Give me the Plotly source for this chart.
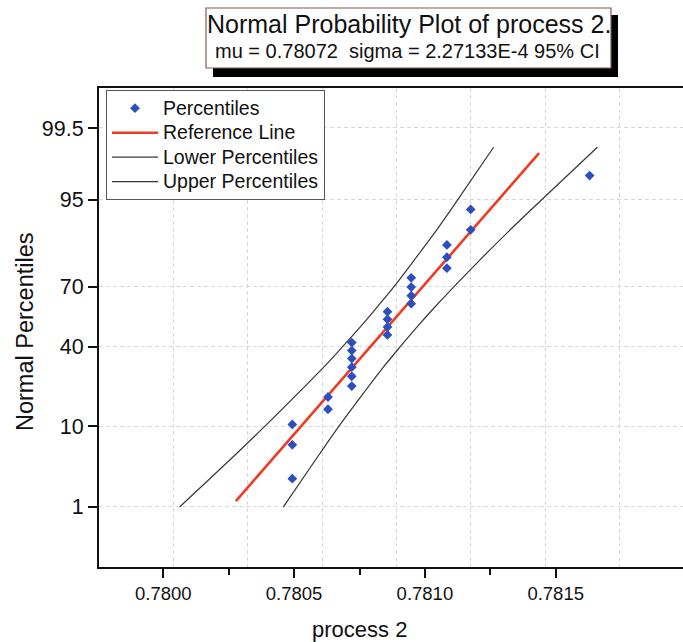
import plotly.graph_objects as go
from statistics import NormalDist

# ---------------- data ----------------
process2_values = [0.7804, 0.7804, 0.7804, 0.78052, 0.78052,
                   0.7806, 0.7806, 0.7806, 0.7806, 0.7806, 0.7806,
                   0.78072, 0.78072, 0.78072, 0.78072,
                   0.7808, 0.7808, 0.7808, 0.7808,
                   0.78092, 0.78092, 0.78092, 0.7810, 0.7810, 0.7814]
point_percentiles = [2.5, 6.4, 10.4, 14.4, 18.3, 22.3, 26.2, 30.2, 34.2, 38.1,
                     42.1, 46.0, 50.0, 54.0, 57.9, 61.9, 65.8, 69.8, 73.8, 77.7,
                     81.7, 85.6, 89.6, 93.6, 97.5]

ref_line_x = [0.78021, 0.78123]
ref_line_pct = [1.22, 98.78]

ci_pct = [1, 5, 10, 20, 30, 40, 50, 60, 70, 80, 90, 95, 99]
lower_x = [0.780021, 0.780210, 0.780308, 0.780423, 0.780504, 0.780569, 0.780628,
           0.780684, 0.780742, 0.780805, 0.780890, 0.780956, 0.781077]
upper_x = [0.780370, 0.780491, 0.780557, 0.780642, 0.780705, 0.780763, 0.780819,
           0.780878, 0.780944, 0.781024, 0.781139, 0.781238, 0.781426]

ytick_pct = [1, 10, 40, 70, 95, 99.5]
ytick_text = ["1", "10", "40", "70", "95", "99.5"]
xtick_vals = [0.7800, 0.7805, 0.7810, 0.7815]
xtick_text = ["0.7800", "0.7805", "0.7810", "0.7815"]
xminor_vals = [0.78025, 0.78075, 0.78125]

legend_names = ["Percentiles", "Reference Line", "Lower Percentiles", "Upper Percentiles"]

title_line1 = "Normal Probability Plot of process 2."
title_line2 = "mu = 0.78072&nbsp; sigma = 2.27133E-4 95% CI"

# ---------------- layout helpers ----------------
W, H = 683, 642
ML, MR, MT, MB = 99, 0, 88, 75
PW, PH = W - ML - MR, H - MT - MB
FONT = "Liberation Sans, Arial, sans-serif"


def px_x(p):
    return (p - ML) / PW


def px_y(p):
    return (H - MB - p) / PH


nd = NormalDist()


def probit(pcts):
    return [nd.inv_cdf(p / 100.0) for p in pcts]


def leg(name):
    return '<span style="font-size:19.5px">' + name + '</span>'


fig = go.Figure()

line_col = "#3c3434"
fig.add_trace(go.Scatter(x=lower_x, y=probit(ci_pct), mode="lines", name=leg(legend_names[2]),
                         line=dict(color=line_col, width=1.2, shape="spline"), legendrank=3))
fig.add_trace(go.Scatter(x=upper_x, y=probit(ci_pct), mode="lines", name=leg(legend_names[3]),
                         line=dict(color=line_col, width=1.2, shape="spline"), legendrank=4))
fig.add_trace(go.Scatter(x=ref_line_x, y=probit(ref_line_pct), mode="lines",
                         name=leg(legend_names[1]),
                         line=dict(color="#ef3b23", width=2.6), legendrank=2))
fig.add_trace(go.Scatter(x=process2_values, y=probit(point_percentiles), mode="markers",
                         name=leg(legend_names[0]), legendrank=1,
                         marker=dict(symbol="diamond", size=7.5, color="#2b4fc0",
                                     line=dict(width=0))))

grid_col = "#d2d9e0"
fig.update_layout(
    width=W, height=H,
    margin=dict(l=ML, r=MR, t=MT, b=MB, pad=0),
    paper_bgcolor="white", plot_bgcolor="white",
    font=dict(family=FONT, color="#111111"),
    showlegend=True,
    legend=dict(x=px_x(106), y=px_y(90), xanchor="left", yanchor="top",
                bgcolor="white", bordercolor="#555555", borderwidth=1,
                font=dict(family=FONT, size=16.5, color="#111111"),
                tracegroupgap=0, itemwidth=46),
    xaxis=dict(range=[0.7797498, 0.7817141], showgrid=True, gridcolor=grid_col,
               griddash="4px,3px", gridwidth=1, tick0=0.78, dtick=0.00025,
               showticklabels=False, ticks="", showline=False, zeroline=False),
    xaxis2=dict(overlaying="x", anchor="y", side="bottom",
                range=[0.7797542, 0.7819866], tickmode="array",
                tickvals=xtick_vals, ticktext=xtick_text,
                ticks="outside", ticklen=9, tickwidth=2, tickcolor="#111111",
                tickfont=dict(family=FONT, size=18.5, color="#111111"),
                minor=dict(tickmode="array", tickvals=xminor_vals, ticks="outside",
                           ticklen=6, tickwidth=2, tickcolor="#111111", showgrid=False),
                showgrid=False, zeroline=False,
                showline=True, linecolor="#111111", linewidth=2, mirror=True),
    yaxis=dict(range=[-3.103, 3.093], tickmode="array", tickvals=probit(ytick_pct),
               ticktext=ytick_text, ticks="outside", ticklen=9, tickwidth=2,
               tickcolor="#111111", tickfont=dict(family=FONT, size=21.5, color="#111111"),
               showgrid=True, gridcolor=grid_col, griddash="4px,3px", gridwidth=1,
               zeroline=False, showline=True, linecolor="#111111", linewidth=2,
               mirror=False),
)

# invisible trace so that the displayed bottom axis (xaxis2) is drawn
fig.add_trace(go.Scatter(x=[xtick_vals[0]], y=[0], xaxis="x2", yaxis="y", mode="markers",
                         marker=dict(opacity=0), showlegend=False, hoverinfo="skip"))

# title box with drop shadow
fig.add_shape(type="rect", xref="paper", yref="paper",
              x0=px_x(213), x1=px_x(618), y0=px_y(77), y1=px_y(15),
              fillcolor="black", line=dict(width=0))
fig.add_shape(type="rect", xref="paper", yref="paper",
              x0=px_x(206), x1=px_x(611), y0=px_y(68), y1=px_y(8),
              fillcolor="white", line=dict(color="#7d5c55", width=1.2))

fig.add_annotation(xref="paper", yref="paper", x=px_x(409), y=px_y(24),
                   text=title_line1, showarrow=False, xanchor="center", yanchor="middle",
                   font=dict(family=FONT, size=25, color="#111111"))
fig.add_annotation(xref="paper", yref="paper", x=px_x(407), y=px_y(51),
                   text=title_line2, showarrow=False, xanchor="center", yanchor="middle",
                   font=dict(family=FONT, size=20, color="#111111"))

# axis titles
fig.add_annotation(xref="paper", yref="paper", x=px_x(359), y=px_y(629),
                   text="process 2", showarrow=False, xanchor="center", yanchor="middle",
                   font=dict(family=FONT, size=22, color="#111111"))
fig.add_annotation(xref="paper", yref="paper", x=px_x(25), y=px_y(332),
                   text="Normal Percentiles", showarrow=False, textangle=-90,
                   xanchor="center", yanchor="middle",
                   font=dict(family=FONT, size=23.5, color="#111111"))

fig.write_html("out.html")
